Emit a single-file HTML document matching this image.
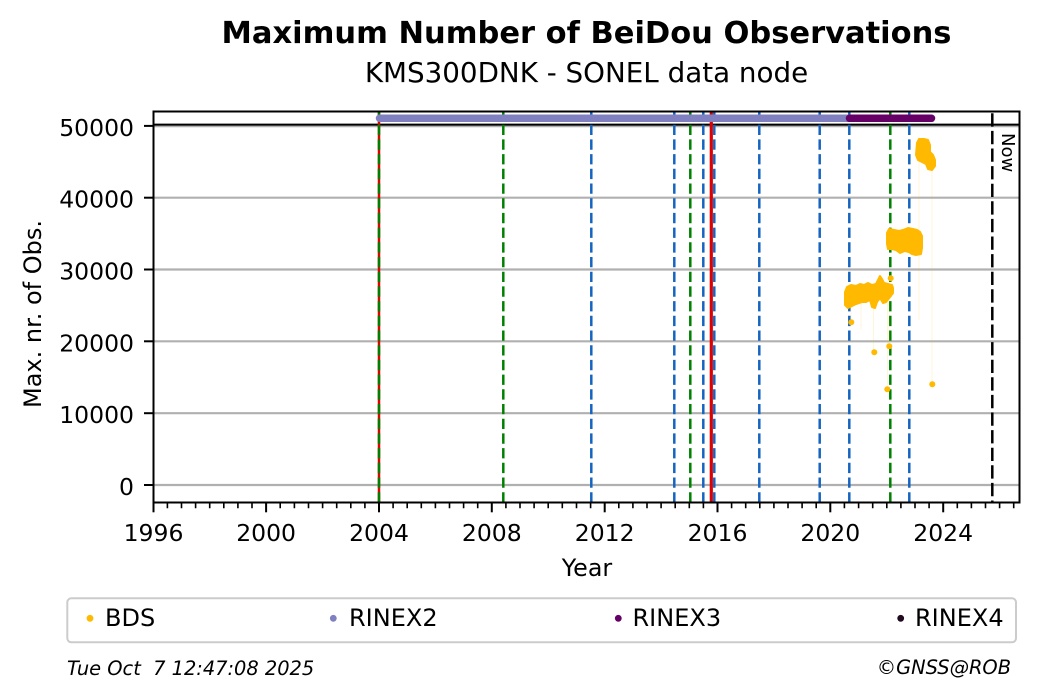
<!DOCTYPE html>
<html>
<head>
<meta charset="utf-8">
<style>
html,body{margin:0;padding:0;background:#fff;}
svg{display:block;}
text{font-family:"DejaVu Sans","Liberation Sans",sans-serif;fill:#000;}
</style>
</head>
<body>
<svg width="1040" height="699" viewBox="0 0 1040 699" xmlns="http://www.w3.org/2000/svg">
<rect x="0" y="0" width="1040" height="699" fill="#fff"/>

<!-- Titles -->
<text x="586.5" y="43" font-size="30.5" font-weight="bold" text-anchor="middle">Maximum Number of BeiDou Observations</text>
<text x="586.5" y="82" font-size="27.75" text-anchor="middle">KMS300DNK - SONEL data node</text>

<!-- horizontal grid -->
<g stroke="#b0b0b0" stroke-width="2.2">
<line x1="153.5" y1="485" x2="1019.5" y2="485"/>
<line x1="153.5" y1="413.2" x2="1019.5" y2="413.2"/>
<line x1="153.5" y1="341.3" x2="1019.5" y2="341.3"/>
<line x1="153.5" y1="269.5" x2="1019.5" y2="269.5"/>
<line x1="153.5" y1="197.7" x2="1019.5" y2="197.7"/>
<line x1="153.5" y1="126.2" x2="1019.5" y2="126.2"/>
</g>

<!-- black horizontal line -->
<line x1="153.5" y1="124.6" x2="1019.5" y2="124.6" stroke="#000" stroke-width="2"/>

<!-- vertical event lines -->
<line x1="379" y1="502.5" x2="379" y2="111.5" stroke="#e00000" stroke-width="2.5"/>
<g stroke-width="2.5" stroke-dasharray="10.3 4.4" fill="none">
<line x1="379" y1="502.5" x2="379" y2="111.5" stroke="#008000"/>
<line x1="503.3" y1="502.5" x2="503.3" y2="111.5" stroke="#008000"/>
<line x1="690.3" y1="502.5" x2="690.3" y2="111.5" stroke="#008000"/>
<line x1="890.3" y1="502.5" x2="890.3" y2="111.5" stroke="#008000"/>
<line x1="591.3" y1="502.5" x2="591.3" y2="111.5" stroke="#1565c0"/>
<line x1="674.3" y1="502.5" x2="674.3" y2="111.5" stroke="#1565c0"/>
<line x1="703.3" y1="502.5" x2="703.3" y2="111.5" stroke="#1565c0"/>
<line x1="714.3" y1="502.5" x2="714.3" y2="111.5" stroke="#1565c0"/>
<line x1="759.3" y1="502.5" x2="759.3" y2="111.5" stroke="#1565c0"/>
<line x1="819.7" y1="502.5" x2="819.7" y2="111.5" stroke="#1565c0"/>
<line x1="849.3" y1="502.5" x2="849.3" y2="111.5" stroke="#1565c0"/>
<line x1="909.3" y1="502.5" x2="909.3" y2="111.5" stroke="#1565c0"/>
</g>
<line x1="711.3" y1="502.5" x2="711.3" y2="111.5" stroke="#e00000" stroke-width="3.2"/>
<line x1="992.3" y1="111.5" x2="992.3" y2="502.5" stroke="#000" stroke-width="2.5" stroke-dasharray="13.3 4.3" stroke-dashoffset="-1.8"/>
<text x="1002" y="133" font-size="18" transform="rotate(90 1002 133)">Now</text>

<!-- RINEX bands -->
<line x1="379.5" y1="118.3" x2="848" y2="118.3" stroke="#8080c0" stroke-width="7.5" stroke-linecap="round"/>
<line x1="849.5" y1="118.3" x2="931.5" y2="118.3" stroke="#660066" stroke-width="7.5" stroke-linecap="round"/>

<!-- BDS faint connecting lines -->
<g stroke="#ffb900" stroke-opacity="0.15" stroke-width="1">
<line x1="873.5" y1="300" x2="873.5" y2="352"/>
<line x1="887.5" y1="300" x2="887.5" y2="389"/>
<line x1="889" y1="300" x2="889" y2="346"/>
<line x1="932" y1="168" x2="932" y2="384"/>
<line x1="919" y1="160" x2="919" y2="320"/>
<line x1="851" y1="300" x2="851" y2="322"/>
<line x1="861" y1="300" x2="861" y2="330"/>
</g>

<!-- BDS clusters -->
<g fill="#ffb900" stroke="#ffb900" stroke-width="2" stroke-linejoin="round">
<polygon points="845,292 847,287 851,285 856,286 860,284 864,285 868,283 872,285 876,284 878,280 880,276 882,279 884,283 888,284 892,285 893,288 893,293 890,297 886,302 883,303 880,298 877,302 875,308 872,307 870,300 866,302 862,302 859,303 856,304 852,306 848,308 845,305"/>
<polygon points="887,233 889,229 894,230 899,231 903,230 908,228 913,229 917,230 920,232 922,236 922,248 921,254 916,255 912,254 909,252 905,251 900,253 896,250 892,249 888,249 887,244"/>
<polygon points="917,143 919,139 924,139 928,140 930,145 930,152 933,155 935,160 935,166 932,170 928,169 926,164 922,162 918,160 916,155"/>
</g>
<g fill="#ffb900">
<circle cx="851.3" cy="322.3" r="3"/>
<circle cx="874.3" cy="352.3" r="3"/>
<circle cx="889.3" cy="346.3" r="3"/>
<circle cx="887.3" cy="389.3" r="3"/>
<circle cx="932.3" cy="384.3" r="3"/>
<circle cx="890.7" cy="278.3" r="3"/>
</g>

<!-- spines -->
<rect x="153.5" y="111.5" width="866" height="391" fill="none" stroke="#000" stroke-width="2"/>

<!-- y ticks -->
<g stroke="#000" stroke-width="2">
<line x1="144" y1="485" x2="153.5" y2="485"/>
<line x1="144" y1="413.2" x2="153.5" y2="413.2"/>
<line x1="144" y1="341.3" x2="153.5" y2="341.3"/>
<line x1="144" y1="269.5" x2="153.5" y2="269.5"/>
<line x1="144" y1="197.7" x2="153.5" y2="197.7"/>
<line x1="144" y1="125.9" x2="153.5" y2="125.9"/>
</g>
<g font-size="23.5" text-anchor="end">
<text x="134" y="495">0</text>
<text x="134" y="423.2">10000</text>
<text x="134" y="351.3">20000</text>
<text x="134" y="279.5">30000</text>
<text x="134" y="207.7">40000</text>
<text x="134" y="135.9">50000</text>
</g>

<!-- x major ticks -->
<g stroke="#000" stroke-width="2">
<line x1="153.5" y1="502.5" x2="153.5" y2="512.3"/>
<line x1="266.1" y1="502.5" x2="266.1" y2="512.3"/>
<line x1="379" y1="502.5" x2="379" y2="512.3"/>
<line x1="491.8" y1="502.5" x2="491.8" y2="512.3"/>
<line x1="604.7" y1="502.5" x2="604.7" y2="512.3"/>
<line x1="717.5" y1="502.5" x2="717.5" y2="512.3"/>
<line x1="830.3" y1="502.5" x2="830.3" y2="512.3"/>
<line x1="943.2" y1="502.5" x2="943.2" y2="512.3"/>
</g>
<!-- x minor ticks -->
<path stroke="#000" stroke-width="1.6" fill="none" d="
M167.4 502.5V508.3 M181.5 502.5V508.3 M195.6 502.5V508.3 M209.7 502.5V508.3 M223.8 502.5V508.3 M237.9 502.5V508.3 M252.0 502.5V508.3
M280.2 502.5V508.3 M294.4 502.5V508.3 M308.5 502.5V508.3 M322.6 502.5V508.3 M336.7 502.5V508.3 M350.8 502.5V508.3 M364.9 502.5V508.3
M393.1 502.5V508.3 M407.2 502.5V508.3 M421.3 502.5V508.3 M435.4 502.5V508.3 M449.5 502.5V508.3 M463.6 502.5V508.3 M477.7 502.5V508.3
M505.9 502.5V508.3 M520.0 502.5V508.3 M534.1 502.5V508.3 M548.2 502.5V508.3 M562.3 502.5V508.3 M576.5 502.5V508.3 M590.6 502.5V508.3
M618.8 502.5V508.3 M632.9 502.5V508.3 M647.0 502.5V508.3 M661.1 502.5V508.3 M675.2 502.5V508.3 M689.3 502.5V508.3 M703.4 502.5V508.3
M731.6 502.5V508.3 M745.7 502.5V508.3 M759.8 502.5V508.3 M773.9 502.5V508.3 M788.0 502.5V508.3 M802.1 502.5V508.3 M816.2 502.5V508.3
M844.4 502.5V508.3 M858.6 502.5V508.3 M872.7 502.5V508.3 M886.8 502.5V508.3 M900.9 502.5V508.3 M915.0 502.5V508.3 M929.1 502.5V508.3
M957.3 502.5V508.3 M971.4 502.5V508.3 M985.5 502.5V508.3 M999.6 502.5V508.3 M1013.7 502.5V508.3"/>
<g font-size="23.5" text-anchor="middle">
<text x="153.5" y="541">1996</text>
<text x="266.1" y="541">2000</text>
<text x="379" y="541">2004</text>
<text x="491.8" y="541">2008</text>
<text x="604.7" y="541">2012</text>
<text x="717.5" y="541">2016</text>
<text x="830.3" y="541">2020</text>
<text x="943.2" y="541">2024</text>
</g>

<!-- axis labels -->
<text x="587" y="576" font-size="23.8" text-anchor="middle">Year</text>
<text x="41" y="314" font-size="24" text-anchor="middle" transform="rotate(-90 41 314)">Max. nr. of Obs.</text>

<!-- legend -->
<rect x="67.3" y="598.3" width="948.7" height="44" rx="4" ry="4" fill="#fff" stroke="#cccccc" stroke-width="2"/>
<circle cx="90" cy="618.3" r="3.4" fill="#ffb900"/>
<text x="105" y="626" font-size="24">BDS</text>
<circle cx="333.3" cy="618.3" r="3.4" fill="#8080c0"/>
<text x="349" y="626" font-size="24">RINEX2</text>
<circle cx="618.3" cy="618.3" r="3.4" fill="#660066"/>
<text x="632.5" y="626" font-size="24">RINEX3</text>
<circle cx="900.7" cy="618.3" r="3.4" fill="#200a20"/>
<text x="915" y="626" font-size="24">RINEX4</text>

<!-- footer -->
<text x="67" y="675" font-size="19.4" font-style="italic" xml:space="preserve" style="white-space:pre">Tue Oct  7 12:47:08 2025</text>
<text x="1011" y="674" font-size="19.4" font-style="italic" text-anchor="end">©GNSS@ROB</text>
</svg>
</body>
</html>
